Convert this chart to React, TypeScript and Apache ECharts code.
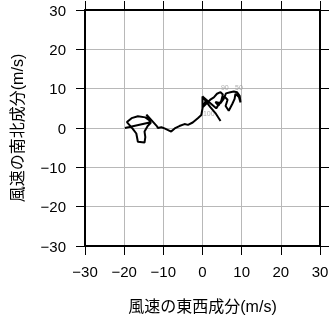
import React, { useEffect, useRef } from "react";
import * as echarts from "echarts";

// Hodograph: east-west (u) and north-south (v) wind components in m/s, in path order
const windU = [
  -19.8, -13.5, -13.5, -14.6, -16.5, -18.1, -19.3, -17.8, -16.9, -16.5, -14.8, -14.6, -14.8, -14.0, -13.2, -14.3,
  -11.6, -11.4, -10.5, -9.7, -8.0, -7.1, -5.9, -4.6, -3.7, -2.5, -1.2, -0.3,
  0.0, 0.0, 0.9, 0.1, 2.1, 2.9, 3.7, 4.6, 5.2, 4.8, 4.1, 3.3, 4.6, 5.4, 6.0, 7.1, 8.0, 8.8, 9.5, 9.7, 9.3, 8.4, 8.2,
  7.6, 6.7, 5.9, 6.4, 5.6, 4.3, 3.5, 0.0, 2.0, 3.3, 4.6,
];
const windV = [
  0.0, 1.4, 1.9, 2.7, 3.0, 2.5, 1.5, -0.2, -1.4, -3.5, -3.7, -2.3, -0.9, 0.5, 1.3, 3.4,
  0.4, 0.0, 0.2, -0.1, -0.9, -0.1, 0.5, 1.0, 0.8, 1.4, 2.5, 3.3,
  5.0, 8.0, 7.1, 5.3, 7.3, 7.8, 8.7, 9.1, 8.5, 6.9, 5.7, 6.6, 6.3, 7.4, 8.8, 9.1, 9.3, 9.1, 8.2, 6.5, 7.9, 8.7, 7.4,
  6.1, 4.4, 5.6, 7.2, 8.0, 6.2, 5.0, 8.0, 5.3, 3.8, 1.8,
];

// Small grey level labels along the trace
const levelLabels = ["100", "90", "50"];
const labelU = [1.6, 5.7, 9.3];
const labelV = [3.6, 10.3, 10.3];

const axisMin = -30;
const axisMax = 30;
const axisStep = 10;

const xTitle = "風速の東西成分(m/s)";
const yTitle = "風速の南北成分(m/s)";

export default function App() {
  const ref = useRef<HTMLDivElement>(null);
  useEffect(() => {
    const chart = echarts.init(ref.current!, null, { renderer: "svg" });
    const font = "'Liberation Sans', 'Noto Sans CJK JP', sans-serif";
    const fmt = (v: number) => String(v).replace("-", "\u2212");
    const frameLine = { onZero: false, lineStyle: { color: "#000", width: 2 } };
    const tick = { show: true, inside: false, length: 9, lineStyle: { color: "#000", width: 1 } };
    const base = { type: "value", min: axisMin, max: axisMax, interval: axisStep };
    const labelStyle = { fontSize: 15, color: "#000", fontFamily: font, formatter: fmt };
    const nameStyle = { fontSize: 16, color: "#000", fontFamily: font };
    chart.setOption({
      animation: false,
      grid: { left: 85, top: 10, width: 235, height: 236, containLabel: false, outerBoundsMode: "none" },
      xAxis: [
        {
          ...base,
          position: "bottom",
          name: xTitle,
          nameLocation: "middle",
          nameGap: 52,
          nameTextStyle: nameStyle,
          axisLine: frameLine,
          axisTick: tick,
          axisLabel: { ...labelStyle, margin: 18 },
          splitLine: { show: true, lineStyle: { color: "#b8b8b8", width: 1 } },
        },
        {
          ...base,
          position: "top",
          axisLine: frameLine,
          axisTick: tick,
          axisLabel: { show: false },
          splitLine: { show: false },
        },
      ],
      yAxis: [
        {
          ...base,
          position: "left",
          name: yTitle,
          nameLocation: "middle",
          nameGap: 60,
          nameTextStyle: nameStyle,
          axisLine: frameLine,
          axisTick: tick,
          axisLabel: { ...labelStyle, margin: 19 },
          splitLine: { show: true, lineStyle: { color: "#b8b8b8", width: 1 } },
        },
        {
          ...base,
          position: "right",
          axisLine: frameLine,
          axisTick: tick,
          axisLabel: { show: false },
          splitLine: { show: false },
        },
      ],
      series: [
        {
          type: "line",
          xAxisIndex: 0,
          yAxisIndex: 0,
          data: windU.map((u, i) => [u, windV[i]]),
          symbol: "none",
          showSymbol: false,
          lineStyle: { color: "#000", width: 2 },
          z: 3,
        },
        {
          type: "scatter",
          xAxisIndex: 0,
          yAxisIndex: 0,
          data: labelU.map((u, i) => [u, labelV[i]]),
          symbolSize: 0,
          label: {
            show: true,
            position: "inside",
            formatter: (p: any) => levelLabels[p.dataIndex],
            color: "#999",
            fontSize: 7,
            fontFamily: font,
          },
          z: 2,
        },
      ],
    });
    return () => chart.dispose();
  }, []);
  return <div ref={ref} style={{ position: "fixed", left: 0, top: 0, width: 331, height: 318 }} />;
}
